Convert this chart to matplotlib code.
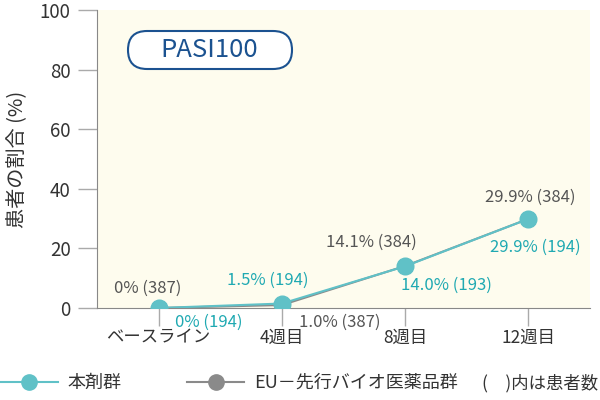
import matplotlib.pyplot as plt
from matplotlib.lines import Line2D
from matplotlib.patches import FancyBboxPatch
from matplotlib.transforms import IdentityTransform

plt.rcParams['font.family'] = ['Noto Sans CJK JP', 'DejaVu Sans']

# data
weeks = ['ベースライン', '4週目', '8週目', '12週目']
drug_vals = [0, 1.5, 14.0, 29.9]
drug_n = [194, 194, 193, 194]
ref_vals = [0, 1.0, 14.1, 29.9]
ref_n = [387, 387, 384, 384]

teal = '#60c1c7'
teal_txt = '#1fa9b2'
grey = '#8a8a8a'
grey_txt = '#555555'
navy = '#1b5290'

fig = plt.figure(figsize=(6, 4), dpi=100)
ax = fig.add_axes([97/600, 92/400, 493/600, 298/400])
ax.set_facecolor('#fefcee')

x = list(range(len(weeks)))
ax.plot(x, ref_vals, color=grey, lw=1.5, marker='o', ms=11, zorder=2)
ax.plot(x, drug_vals, color=teal, lw=1.5, marker='o', ms=12, zorder=3)

ax.set_xlim(-0.5, 3.5)
ax.set_ylim(0, 100)
ax.set_yticks([0, 20, 40, 60, 80, 100])
ax.set_xticks(x)
ax.set_xticklabels(weeks, fontsize=12.5, color='#333333')
ax.tick_params(axis='y', labelsize=13.5, colors='#333333', length=14, color='#aaaaaa', width=1, pad=5)
ax.tick_params(axis='x', length=13, color='#aaaaaa', width=1, pad=2)
for s in ['top', 'right']:
    ax.spines[s].set_visible(False)
for s in ['left', 'bottom']:
    ax.spines[s].set_color('#888888')
ax.set_ylabel('患者の割合 (%)', fontsize=14.5, color='#333333', labelpad=9)

# value labels: offsets in pixels (dx, dy)
drug_off = [(50, -14), (-14, 23), (41, -19), (7, -28)]
ref_off = [(-11, 20), (58, -17), (-34, 24), (2, 22)]
for i in x:
    ax.annotate(f'{drug_vals[i]:.1f}% ({drug_n[i]})' if drug_vals[i] else f'0% ({drug_n[i]})',
                (i, drug_vals[i]), xytext=drug_off[i], textcoords='offset pixels',
                ha='center', va='center', fontsize=12, color=teal_txt, zorder=5)
    ax.annotate(f'{ref_vals[i]:.1f}% ({ref_n[i]})' if ref_vals[i] else f'0% ({ref_n[i]})',
                (i, ref_vals[i]), xytext=ref_off[i], textcoords='offset pixels',
                ha='center', va='center', fontsize=12, color=grey_txt, zorder=5)

# PASI100 badge (pixel coordinates)
box = FancyBboxPatch((128, 331), 164, 38,
                     boxstyle='round,pad=0,rounding_size=19',
                     transform=IdentityTransform(), fc='white', ec=navy, lw=1.5)
fig.add_artist(box)
fig.text(209/600, 350/400, 'PASI100', ha='center', va='center', fontsize=18.5, color=navy)

# legend
handles = [Line2D([], [], color=teal, lw=1.5, marker='o', ms=11),
           Line2D([], [], color=grey, lw=1.5, marker='o', ms=11)]
fig.legend(handles, ['本剤群', 'EU－先行バイオ医薬品群'], loc='center left',
           bbox_to_anchor=(0, 17/400), ncol=2, frameon=False, fontsize=13,
           handlelength=3.2, handletextpad=0.55, columnspacing=3.6, borderpad=0,
           borderaxespad=0, labelcolor='#333333')
fig.text(598/600, 17/400, '(\u2003)内は患者数', ha='right', va='center', fontsize=12.5, color='#333333')

fig.savefig('out.png', dpi=100)
